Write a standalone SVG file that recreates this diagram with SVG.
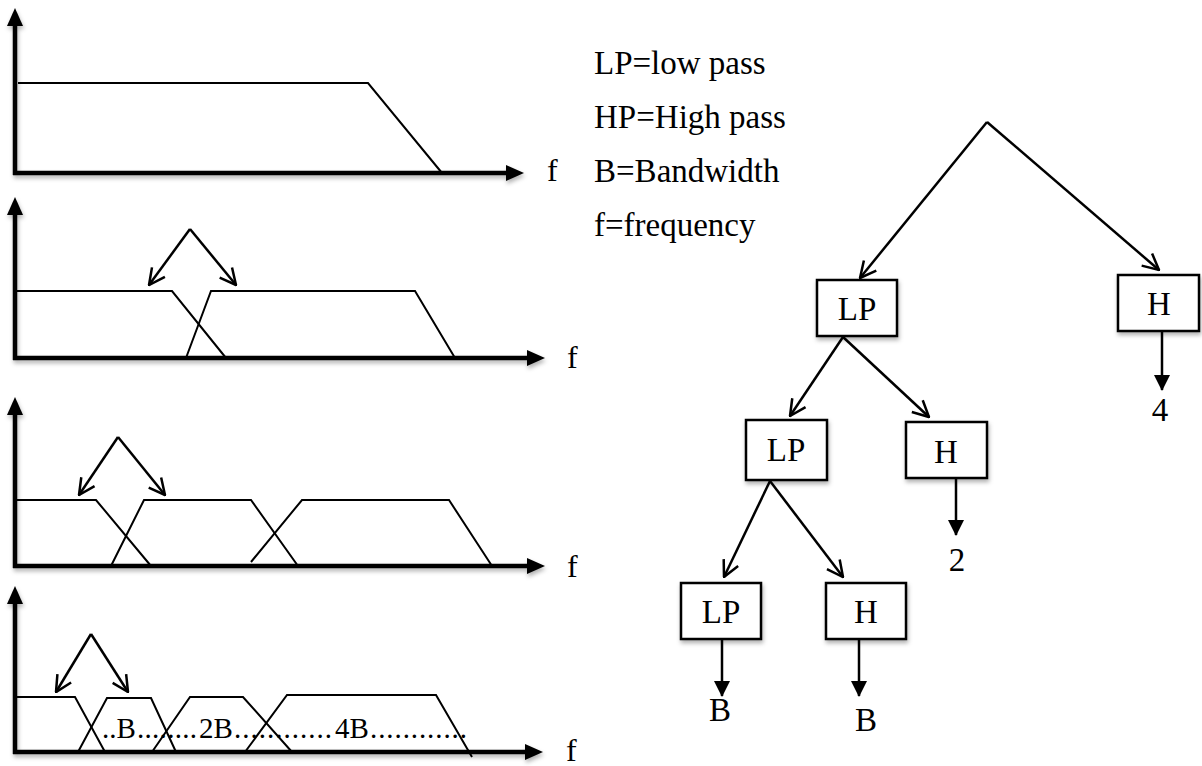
<svg xmlns="http://www.w3.org/2000/svg" width="1202" height="766" viewBox="0 0 1202 766">
  <style>
    .axis { stroke: #000; stroke-width: 4.5; fill: none; }
    .head { fill: #000; }
    .curve { stroke: #000; stroke-width: 2; fill: none; stroke-linejoin: miter; }
    .arr { stroke: #000; stroke-width: 2.5; fill: none; marker-end: url(#open); }
    .down { stroke: #000; stroke-width: 2.5; fill: none; marker-end: url(#solid); }
    .box { fill: #fff; stroke: #000; stroke-width: 2.5; }
    .lbl { font-family: "Liberation Serif", "Times New Roman", serif; font-size: 33px; fill: #000; }
    .fl { font-family: "Liberation Serif", "Times New Roman", serif; font-size: 32px; fill: #000; }
    .mid { text-anchor: middle; }
    .legend { font-family: "Liberation Serif", "Times New Roman", serif; font-size: 33px; fill: #000; }
    .band { font-family: "Liberation Serif", "Times New Roman", serif; font-size: 29px; fill: #000; }
  </style>
  <defs>
    <marker id="open" viewBox="0 0 20 20" refX="19" refY="10" markerWidth="20" markerHeight="20" markerUnits="userSpaceOnUse" orient="auto">
      <path d="M3,2 L19,10 L3,18" fill="none" stroke="#000" stroke-width="2.5"/>
    </marker>
    <marker id="solid" viewBox="0 0 16 16" refX="15" refY="8" markerWidth="16" markerHeight="16" markerUnits="userSpaceOnUse" orient="auto">
      <path d="M0,0 L16,8 L0,16 Z" fill="#000"/>
    </marker>
    <filter id="shade" x="-10%" y="-30%" width="120%" height="180%">
      <feDropShadow dx="1" dy="3" stdDeviation="2" flood-color="#000" flood-opacity="0.3"/>
    </filter>
  </defs>

  <!-- Panel 1: single low-pass response -->
  <g id="panel1">
    <g filter="url(#shade)">
      <path class="axis" d="M15,175 L15,24"/>
      <path class="head" d="M15,8 L23,26 L7,26 Z"/>
      <path class="axis" d="M13,173 L508,173"/>
      <path class="head" d="M524,173 L506,165 L506,181 Z"/>
    </g>
    <path class="curve" d="M18,83 L368,83 L442,173"/>
    <text class="fl" x="547" y="181">f</text>
  </g>

  <!-- Panel 2: first split -->
  <g id="panel2">
    <g filter="url(#shade)">
      <path class="axis" d="M15,360 L15,213"/>
      <path class="head" d="M15,197 L23,215 L7,215 Z"/>
      <path class="axis" d="M13,358 L529,358"/>
      <path class="head" d="M545,358 L527,350 L527,366 Z"/>
    </g>
    <path class="curve" d="M15,291 L172,291 L226,358"/>
    <path class="curve" d="M186,358 L211,291 L415,291 L455,358"/>
    <path class="arr" d="M190,229 L149,285"/>
    <path class="arr" d="M190,229 L236,285"/>
    <text class="fl" x="567" y="368">f</text>
  </g>

  <!-- Panel 3: second split -->
  <g id="panel3">
    <g filter="url(#shade)">
      <path class="axis" d="M15,568 L15,413"/>
      <path class="head" d="M15,397 L23,415 L7,415 Z"/>
      <path class="axis" d="M13,566 L529,566"/>
      <path class="head" d="M545,566 L527,558 L527,574 Z"/>
    </g>
    <path class="curve" d="M15,500 L96,500 L151,566"/>
    <path class="curve" d="M111,566 L144,500 L251,500 L298,566"/>
    <path class="curve" d="M251,562 L302,500 L449,500 L492,566"/>
    <path class="arr" d="M118,437 L79,495"/>
    <path class="arr" d="M118,437 L165,495"/>
    <text class="fl" x="567" y="577">f</text>
  </g>

  <!-- Panel 4: third split with bandwidth labels -->
  <g id="panel4">
    <g filter="url(#shade)">
      <path class="axis" d="M15,754 L15,602"/>
      <path class="head" d="M15,586 L23,604 L7,604 Z"/>
      <path class="axis" d="M13,752 L527,752"/>
      <path class="head" d="M543,752 L525,744 L525,760 Z"/>
    </g>
    <path class="curve" d="M15,697 L75,697 L105,752"/>
    <path class="curve" d="M78,752 L107,698 L151,698 L176,752"/>
    <path class="curve" d="M152,752 L190,697 L243,697 L292,752"/>
    <path class="curve" d="M245,752 L287,695 L436,695 L472,757"/>
    <path class="arr" d="M91,634 L56,692"/>
    <path class="arr" d="M91,634 L128,692"/>
    <text class="band" x="102" y="738">..B</text>
    <text class="band" x="137" y="738" textLength="60" lengthAdjust="spacing">........</text>
    <text class="band" x="199" y="738">2B</text>
    <text class="band" x="234" y="738" textLength="98" lengthAdjust="spacing">............</text>
    <text class="band" x="335" y="738">4B</text>
    <text class="band" x="370" y="738" textLength="97" lengthAdjust="spacing">............</text>
    <text class="fl" x="566" y="761">f</text>
  </g>

  <!-- Legend -->
  <g id="legend">
    <text class="legend" x="594" y="74">LP=low pass</text>
    <text class="legend" x="594" y="128">HP=High pass</text>
    <text class="legend" x="594" y="182">B=Bandwidth</text>
    <text class="legend" x="594" y="236">f=frequency</text>
  </g>

  <!-- Connectors of the filter tree -->
  <g id="connectors">
    <path class="arr" d="M987,122 L860,278"/>
    <path class="arr" d="M987,122 L1159,270"/>
    <path class="arr" d="M843,337 L790,416"/>
    <path class="arr" d="M843,337 L929,417"/>
    <path class="arr" d="M770,481 L724,577"/>
    <path class="arr" d="M770,481 L843,577"/>
    <path class="down" d="M1162,332 L1162,390"/>
    <path class="down" d="M956,479 L956,535"/>
    <path class="down" d="M722,640 L722,696"/>
    <path class="down" d="M859,640 L859,696"/>
  </g>

  <!-- Tree nodes -->
  <g id="lp1">
    <rect class="box" x="817" y="280" width="80" height="56" filter="url(#shade)"/>
    <text class="lbl mid" x="857" y="320">LP</text>
  </g>
  <g id="h1">
    <rect class="box" x="1118" y="275" width="81" height="56" filter="url(#shade)"/>
    <text class="lbl mid" x="1159" y="315">H</text>
  </g>
  <g id="lp2">
    <rect class="box" x="746" y="420" width="81" height="60" filter="url(#shade)"/>
    <text class="lbl mid" x="786" y="461">LP</text>
  </g>
  <g id="h2">
    <rect class="box" x="906" y="422" width="81" height="56" filter="url(#shade)"/>
    <text class="lbl mid" x="946" y="463">H</text>
  </g>
  <g id="lp3">
    <rect class="box" x="681" y="583" width="80" height="56" filter="url(#shade)"/>
    <text class="lbl mid" x="721" y="623">LP</text>
  </g>
  <g id="h3">
    <rect class="box" x="826" y="583" width="80" height="56" filter="url(#shade)"/>
    <text class="lbl mid" x="866" y="623">H</text>
  </g>

  <!-- Output bandwidth labels -->
  <g id="out4"><text class="lbl mid" x="1160" y="421">4</text></g>
  <g id="out2"><text class="lbl mid" x="957" y="571">2</text></g>
  <g id="outB1"><text class="lbl mid" x="720" y="721">B</text></g>
  <g id="outB2"><text class="lbl mid" x="866" y="731">B</text></g>
</svg>
